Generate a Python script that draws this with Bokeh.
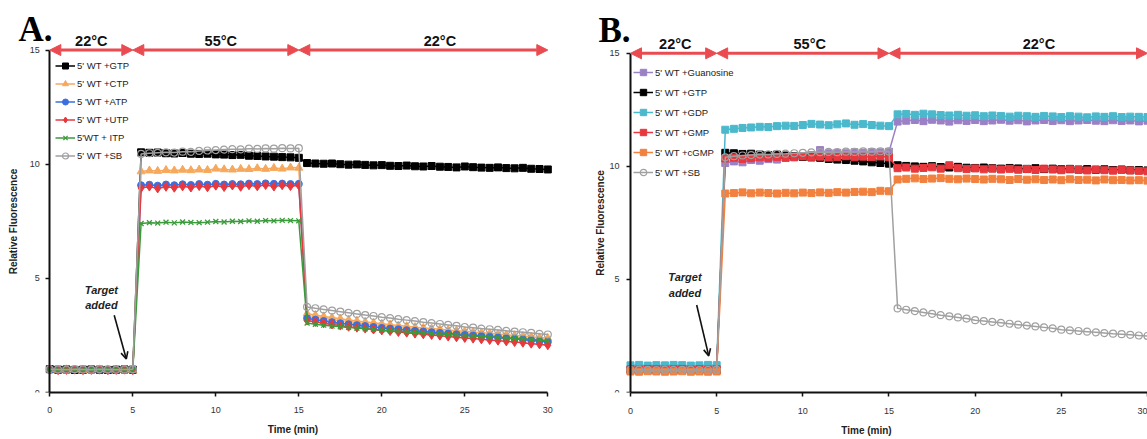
from bokeh.plotting import figure
from bokeh.layouts import row
from bokeh.models import Range1d, Arrow, NormalHead, OpenHead, FixedTicker
from bokeh.core.properties import value
from bokeh.embed import file_html
from bokeh.resources import INLINE

FONT = "Liberation Sans"

# ---------------- data ----------------
time_min = [0.0, 0.5, 1.0, 1.5, 2.0, 2.5, 3.0, 3.5, 4.0, 4.5, 5.0,
            5.5, 6.0, 6.5, 7.0, 7.5, 8.0, 8.5, 9.0, 9.5, 10.0,
            10.5, 11.0, 11.5, 12.0, 12.5, 13.0, 13.5, 14.0, 14.5, 15.0,
            15.5, 16.0, 16.5, 17.0, 17.5, 18.0, 18.5, 19.0, 19.5, 20.0,
            20.5, 21.0, 21.5, 22.0, 22.5, 23.0, 23.5, 24.0, 24.5, 25.0,
            25.5, 26.0, 26.5, 27.0, 27.5, 28.0, 28.5, 29.0, 29.5, 30.0]

x_ticks = [0, 5, 10, 15, 20, 25, 30]
y_ticks = [0, 5, 10, 15]

phase_start = [0, 5, 15]
phase_end = [5, 15, 30]
phase_label = ["22°C", "55°C", "22°C"]
phase_label_x_a = [2.5, 10.3, 23.5]
phase_label_x_b = [2.6, 10.4, 23.7]
arrow_level = 15

# Panel A
a_gtp = [1.02, 1.00, 1.01, 0.99, 1.00, 1.01, 1.00, 0.99, 1.00, 1.01, 1.00,
         10.52, 10.50, 10.51, 10.48, 10.47, 10.49, 10.46, 10.45, 10.46, 10.43,
         10.42, 10.40, 10.41, 10.37, 10.36, 10.34, 10.33, 10.31, 10.30, 10.28,
         10.05, 10.03, 10.02, 10.03, 10.00, 9.98, 9.99, 9.97, 9.95, 9.96,
         9.93, 9.92, 9.94, 9.91, 9.90, 9.92, 9.89, 9.88, 9.86, 9.90,
         9.87, 9.85, 9.84, 9.86, 9.83, 9.82, 9.84, 9.80, 9.79, 9.77]
a_ctp = [1.00, 0.99, 1.01, 1.00, 0.98, 1.00, 1.01, 0.99, 1.00, 1.00, 0.99,
         9.68, 9.72, 9.70, 9.74, 9.72, 9.75, 9.73, 9.76, 9.74, 9.80,
         9.77, 9.76, 9.79, 9.78, 9.82, 9.79, 9.83, 9.80, 9.85, 9.84,
         3.45, 3.39, 3.33, 3.28, 3.23, 3.18, 3.13, 3.09, 3.05, 3.01,
         2.97, 2.93, 2.90, 2.86, 2.83, 2.80, 2.77, 2.74, 2.71, 2.68,
         2.65, 2.62, 2.59, 2.56, 2.53, 2.50, 2.47, 2.44, 2.41, 2.38]
a_atp = [0.99, 1.00, 0.98, 1.00, 1.01, 0.99, 1.00, 0.98, 1.00, 0.99, 1.00,
         9.08, 9.10, 9.06, 9.11, 9.08, 9.12, 9.09, 9.13, 9.10, 9.14,
         9.11, 9.13, 9.12, 9.15, 9.13, 9.16, 9.14, 9.15, 9.13, 9.14,
         3.25, 3.19, 3.13, 3.08, 3.03, 2.99, 2.95, 2.91, 2.87, 2.83,
         2.80, 2.77, 2.73, 2.70, 2.67, 2.64, 2.61, 2.58, 2.55, 2.52,
         2.50, 2.47, 2.44, 2.41, 2.38, 2.35, 2.32, 2.29, 2.25, 2.21]
a_utp = [1.00, 0.98, 0.99, 1.00, 0.98, 0.99, 1.00, 0.98, 0.99, 1.00, 0.98,
         8.96, 9.02, 8.94, 9.01, 8.97, 9.03, 8.98, 9.04, 8.99, 9.06,
         9.00, 9.07, 9.01, 9.08, 9.03, 9.09, 9.02, 9.08, 9.04, 9.07,
         3.15, 3.09, 3.03, 2.98, 2.93, 2.88, 2.84, 2.80, 2.76, 2.72,
         2.69, 2.65, 2.62, 2.58, 2.55, 2.52, 2.49, 2.45, 2.42, 2.39,
         2.36, 2.33, 2.30, 2.27, 2.24, 2.21, 2.18, 2.14, 2.11, 2.07]
a_itp = [1.00, 0.99, 1.00, 1.01, 0.99, 1.00, 0.99, 1.00, 1.01, 1.00, 0.99,
         7.40, 7.44, 7.42, 7.46, 7.43, 7.47, 7.45, 7.44, 7.46, 7.49,
         7.47, 7.50, 7.49, 7.52, 7.50, 7.53, 7.52, 7.54, 7.53, 7.52,
         3.04, 2.99, 2.95, 2.91, 2.88, 2.85, 2.82, 2.79, 2.76, 2.73,
         2.71, 2.68, 2.66, 2.63, 2.61, 2.58, 2.56, 2.54, 2.51, 2.49,
         2.47, 2.45, 2.43, 2.41, 2.39, 2.36, 2.34, 2.32, 2.30, 2.27]
a_sb = [1.02, 1.01, 1.00, 1.02, 1.01, 1.00, 1.02, 1.01, 1.00, 1.01, 1.02,
        10.45, 10.48, 10.50, 10.52, 10.51, 10.55, 10.54, 10.58, 10.60, 10.62,
        10.64, 10.66, 10.65, 10.68, 10.67, 10.69, 10.68, 10.70, 10.69, 10.70,
        3.75, 3.69, 3.64, 3.59, 3.54, 3.49, 3.44, 3.39, 3.35, 3.30,
        3.26, 3.21, 3.17, 3.13, 3.08, 3.04, 3.00, 2.96, 2.92, 2.87,
        2.84, 2.80, 2.77, 2.74, 2.70, 2.67, 2.64, 2.61, 2.57, 2.54]

# Panel B
b_gua = [1.00, 1.01, 0.99, 1.00, 1.02, 1.00, 0.99, 1.01, 1.00, 1.00, 1.01,
         10.15, 10.22, 10.18, 10.28, 10.25, 10.32, 10.30, 10.38, 10.40, 10.45,
         10.50, 10.72, 10.58, 10.60, 10.58, 10.62, 10.60, 10.63, 10.62, 10.65,
         11.98, 12.02, 12.05, 12.00, 12.06, 12.03, 11.98, 12.04, 12.01, 12.05,
         12.00, 12.03, 12.06, 12.02, 12.04, 11.99, 12.03, 12.05, 12.01, 12.04,
         12.00, 12.03, 12.05, 12.02, 12.00, 12.04, 12.01, 12.03, 11.99, 12.02]
b_gtp = [1.00, 0.99, 1.01, 1.00, 0.99, 1.00, 1.01, 1.00, 0.99, 1.00, 1.00,
         10.60, 10.58, 10.55, 10.56, 10.52, 10.50, 10.52, 10.48, 10.45, 10.42,
         10.40, 10.38, 10.33, 10.30, 10.28, 10.25, 10.22, 10.18, 10.15, 10.12,
         10.05, 10.02, 10.00, 9.98, 10.01, 9.97, 9.95, 9.98, 9.94, 9.93,
         9.95, 9.92, 9.90, 9.93, 9.91, 9.89, 9.92, 9.88, 9.90, 9.87,
         9.89, 9.86, 9.88, 9.85, 9.87, 9.84, 9.86, 9.83, 9.84, 9.82]
b_gdp = [1.20, 1.22, 1.19, 1.21, 1.20, 1.22, 1.21, 1.19, 1.20, 1.22, 1.21,
         11.62, 11.66, 11.70, 11.72, 11.75, 11.74, 11.78, 11.80, 11.79, 11.83,
         11.88, 11.85, 11.82, 11.86, 11.90, 11.84, 11.87, 11.83, 11.80, 11.78,
         12.30, 12.32, 12.28, 12.33, 12.30, 12.27, 12.25, 12.28, 12.24, 12.26,
         12.22, 12.25, 12.23, 12.20, 12.24, 12.22, 12.19, 12.23, 12.21, 12.18,
         12.22, 12.20, 12.17, 12.21, 12.19, 12.22, 12.18, 12.20, 12.19, 12.18]
b_gmp = [1.03, 1.02, 1.04, 1.03, 1.02, 1.03, 1.04, 1.02, 1.03, 1.02, 1.03,
         10.35, 10.38, 10.33, 10.36, 10.40, 10.37, 10.42, 10.38, 10.41, 10.44,
         10.40, 10.43, 10.39, 10.42, 10.45, 10.40, 10.43, 10.41, 10.44, 10.40,
         9.92, 9.95, 9.90, 9.93, 9.96, 9.90, 10.05, 9.92, 9.88, 9.91,
         9.87, 9.90, 9.86, 9.89, 9.85, 9.88, 9.84, 9.90, 9.86, 9.83,
         9.87, 9.84, 9.82, 9.86, 9.83, 9.81, 9.85, 9.82, 9.80, 9.78]
b_cgmp = [0.93, 0.92, 0.94, 0.93, 0.92, 0.93, 0.94, 0.92, 0.93, 0.92, 0.93,
          8.80, 8.82, 8.85, 8.81, 8.84, 8.82, 8.80, 8.83, 8.81, 8.84,
          8.82, 8.85, 8.83, 8.86, 8.84, 8.87, 8.88, 8.86, 8.92, 8.90,
          9.42, 9.45, 9.47, 9.44, 9.46, 9.48, 9.45, 9.43, 9.46, 9.44,
          9.42, 9.45, 9.43, 9.40, 9.44, 9.41, 9.43, 9.40, 9.42, 9.39,
          9.43, 9.40, 9.41, 9.38, 9.42, 9.39, 9.40, 9.38, 9.39, 9.37]
b_sb = [1.00, 1.01, 1.00, 0.99, 1.01, 1.00, 1.00, 1.01, 0.99, 1.00, 1.01,
        10.40, 10.45, 10.48, 10.50, 10.52, 10.53, 10.55, 10.56, 10.58, 10.60,
        10.62, 10.63, 10.64, 10.63, 10.65, 10.64, 10.66, 10.65, 10.67, 10.66,
        3.72, 3.66, 3.60, 3.54, 3.48, 3.42, 3.37, 3.32, 3.27, 3.20,
        3.16, 3.12, 3.08, 3.04, 3.00, 2.96, 2.92, 2.88, 2.84, 2.78,
        2.75, 2.72, 2.69, 2.66, 2.63, 2.60, 2.58, 2.55, 2.52, 2.50]

labels_a = ["5' WT +GTP", "5' WT +CTP", "5 'WT +ATP", "5' WT +UTP", "5'WT + ITP", "5' WT +SB"]
values_a = [a_gtp, a_ctp, a_atp, a_utp, a_itp, a_sb]
labels_b = ["5' WT +Guanosine", "5' WT +GTP", "5' WT +GDP", "5' WT +GMP", "5' WT +cGMP", "5' WT +SB"]
values_b = [b_gua, b_gtp, b_gdp, b_gmp, b_cgmp, b_sb]

# ---------------- styles ----------------
styles_a = [("#000000", "square", 7), ("#f6a85c", "triangle", 8), ("#3b6fe0", "circle", 7),
            ("#e8383e", "diamond", 9), ("#3a9b3a", "x", 7), ("#a0a0a0", "open", 7)]
styles_b = [("#9b80c6", "square", 7), ("#000000", "square", 7), ("#4bb8cc", "square", 7),
            ("#e8383e", "square", 7), ("#f2803e", "square", 7), ("#a0a0a0", "open", 7)]
RED = "#ea4b50"


def make_panel(labels, values, styles, letter, label_x, target_xy, target_arrow,
               W, H, bb, x0, sx, sy, lx, ly, leg, tick_standoff, xlab_standoff,
               ytick_standoff, ylab_standoff):
    fh = H - bb
    xs = -x0 / sx
    p = figure(width=W, height=H, output_backend="svg", toolbar_location=None,
               x_range=Range1d(xs, xs + W / sx), y_range=Range1d(0, fh / sy),
               min_border_left=0, min_border_right=0, min_border_top=0,
               min_border_bottom=bb)
    p.grid.visible = False
    p.outline_line_color = None
    p.background_fill_color = "white"
    p.border_fill_color = "white"

    p.xaxis.ticker = FixedTicker(ticks=x_ticks)
    p.yaxis.ticker = FixedTicker(ticks=y_ticks)
    p.xaxis.bounds = (x_ticks[0], x_ticks[-1])
    p.yaxis.bounds = (y_ticks[0], y_ticks[-1])
    p.yaxis.fixed_location = 0
    for ax in (p.xaxis, p.yaxis):
        ax.axis_line_width = 2
        ax.axis_line_color = "#111111"
        ax.major_tick_line_width = 1.5
        ax.major_tick_line_color = "#111111"
        ax.major_tick_out = 4
        ax.major_tick_in = 0
        ax.minor_tick_line_color = None
        ax.major_label_text_font = FONT
        ax.major_label_text_font_size = "9px"
        ax.major_label_text_color = "#333333"
        ax.axis_label_text_font = FONT
        ax.axis_label_text_font_style = "bold"
        ax.axis_label_text_font_size = "10px"
        ax.axis_label_text_color = "#222222"
    p.xaxis.axis_label = "Time (min)"
    p.yaxis.axis_label = "Relative Fluorescence"
    p.xaxis.major_label_standoff = tick_standoff
    p.xaxis.axis_label_standoff = xlab_standoff
    p.yaxis.major_label_standoff = ytick_standoff
    p.yaxis.axis_label_standoff = ylab_standoff

    for lab, vals, (c, m, s) in zip(labels, values, styles):
        p.line(time_min, vals, line_color=c, line_width=1.5, legend_label=lab)
        if m == "open":
            p.scatter(time_min, vals, marker="circle", size=s, line_color=c,
                      fill_alpha=0, line_width=1.2, legend_label=lab)
        elif m == "x":
            p.scatter(time_min, vals, marker="x", size=s, line_color=c,
                      line_width=1.3, legend_label=lab)
        else:
            p.scatter(time_min, vals, marker=m, size=s, line_color=c,
                      fill_color=c, legend_label=lab)

    for s0, s1 in zip(phase_start, phase_end):
        p.add_layout(Arrow(start=NormalHead(size=11, fill_color=RED, line_color=RED),
                           end=NormalHead(size=11, fill_color=RED, line_color=RED),
                           x_start=s0, y_start=arrow_level, x_end=s1, y_end=arrow_level,
                           line_color=RED, line_width=3))
    p.text(x=label_x, y=[arrow_level] * 3, text=phase_label, text_font=value(FONT),
           text_font_style="bold", text_font_size="14.5px", text_align="center",
           text_baseline="middle", y_offset=-9, text_color="#111111")

    tx, ty1, ty2 = target_xy
    p.text(x=[tx, tx], y=[ty1, ty2], text=["Target", "added"], text_font=value(FONT),
           text_font_style="bold italic", text_font_size="11px", text_align="center",
           text_baseline="middle", text_color="#222222")
    ax0, ay0, ax1, ay1 = target_arrow
    p.add_layout(Arrow(end=OpenHead(size=7, line_width=1.6, line_color="#111111"),
                       x_start=ax0, y_start=ay0, x_end=ax1, y_end=ay1,
                       line_color="#111111", line_width=1.6))

    p.text(x=[lx], y=[ly], text=[letter], text_font=value("Liberation Serif"),
           text_font_style="bold", text_font_size="35px", text_align="left",
           text_baseline="middle", text_color="#000000")

    vx, vy, gh, sp = leg
    lg = p.legend[0]
    lg.location = (vx, vy)
    lg.padding = 0
    lg.margin = 0
    lg.spacing = sp
    lg.glyph_height = gh
    lg.glyph_width = 20
    lg.label_height = gh
    lg.label_standoff = 2
    lg.label_text_font = FONT
    lg.label_text_font_size = "9.5px"
    lg.label_text_color = "#222222"
    lg.border_line_color = None
    lg.background_fill_alpha = 0
    return p


pA = make_panel(labels_a, values_a, styles_a, "A.", phase_label_x_a,
                (3.11, 4.5, 3.85), (3.88, 3.38, 4.61, 1.47),
                W=585, H=439, bb=47, x0=49.3, sx=16.6, sy=22.83,
                lx=-1.886, ly=15.88, leg=(55, 229, 15, 3),
                tick_standoff=10, xlab_standoff=8, ytick_standoff=6, ylab_standoff=7)
pB = make_panel(labels_b, values_b, styles_b, "B.", phase_label_x_b,
                (3.16, 5.09, 4.41), (3.84, 3.87, 4.54, 1.62),
                W=562, H=439, bb=46, x0=45, sx=17.233, sy=22.67,
                lx=-1.857, ly=16.03, leg=(48, 212, 16, 4),
                tick_standoff=11, xlab_standoff=8, ytick_standoff=7, ylab_standoff=0)

layout = row(pA, pB)
open("out.html", "w").write(file_html(layout, INLINE))
